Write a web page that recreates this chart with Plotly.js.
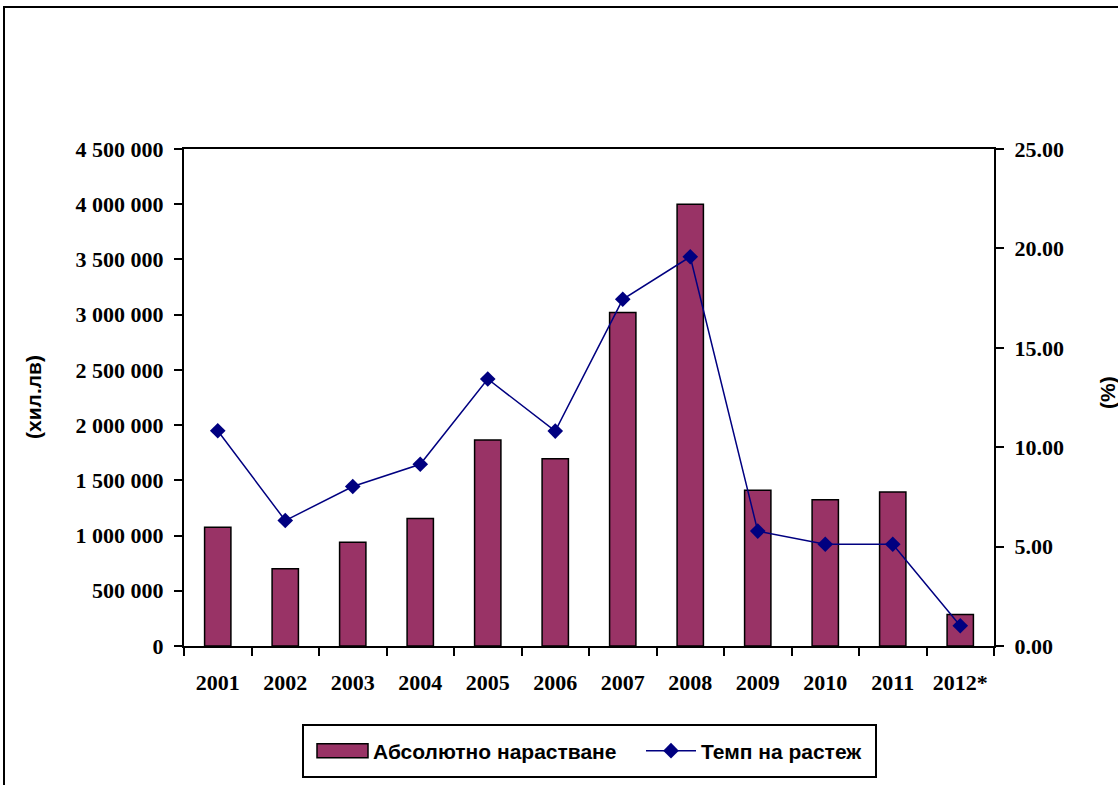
<!DOCTYPE html>
<html>
<head>
<meta charset="utf-8">
<script src="https://cdn.plot.ly/plotly-3.0.1.min.js"></script>
<style>
  html, body { margin: 0; padding: 0; background: #fff; }
  #wrap { position: relative; width: 1118px; height: 785px; overflow: hidden; }
  #chart { position: absolute; left: 0; top: 0; width: 1118px; height: 785px; }
  #frame { position: absolute; left: 3px; top: 6px; width: 1300px; height: 1000px;
           border: 2px solid #000; pointer-events: none; box-sizing: border-box; }
</style>
</head>
<body>
<div id="wrap">
  <div id="chart"></div>
  <div id="frame"></div>
</div>
<script>
const years = ['2001','2002','2003','2004','2005','2006','2007','2008','2009','2010','2011','2012*'];
const absoluteGrowth = [1075000, 700000, 940000, 1155000, 1865000, 1695000, 3020000, 4000000, 1410000, 1325000, 1395000, 285000];
const growthRate = [10.83, 6.31, 8.02, 9.14, 13.43, 10.81, 17.44, 19.58, 5.78, 5.12, 5.12, 1.02];
const barName = 'Абсолютно нарастване';
const lineName = 'Темп на растеж';
const leftTitle = '(хил.лв)';
const rightTitle = '(%)';

const serifBold = {family: 'Liberation Serif, Times New Roman, serif', size: 22, color: '#000', weight: 'bold'};
const sansBold = {family: 'Liberation Sans, Arial, sans-serif', size: 21, color: '#000', weight: 'bold'};

const traces = [
  {
    type: 'bar', x: years, y: absoluteGrowth, name: barName, yaxis: 'y',
    marker: {color: '#993366', line: {color: '#000', width: 1.5}},
    hoverinfo: 'x+y'
  },
  {
    type: 'scatter', mode: 'lines+markers', x: years, y: growthRate, name: lineName, yaxis: 'y2',
    line: {color: '#000080', width: 1.5},
    marker: {symbol: 'diamond', size: 12, color: '#000080'}
  }
];

const L = 184, R = 994, T = 149, B = 646;
const pw = R - L, ph = B - T;
const px = v => (v - L) / pw;
const py = v => (B - v) / ph;

const layout = {
  width: 1118, height: 785,
  margin: {l: L, r: 1118 - R, t: T, b: 785 - B, pad: 0},
  paper_bgcolor: 'rgba(0,0,0,0)', plot_bgcolor: '#fff',
  separators: '. ',
  bargap: 0.61,
  showlegend: true,
  xaxis: {
    type: 'category', range: [-0.5, years.length - 0.5], autorange: false,
    showline: true, linecolor: '#000', linewidth: 2, mirror: true,
    ticks: 'outside', ticklen: 8, tickwidth: 2, tickcolor: '#000', tickson: 'boundaries',
    tickfont: serifBold, ticklabelstandoff: 16, showgrid: false, zeroline: false
  },
  yaxis: {
    range: [0, 4500000], dtick: 500000, tick0: 0, tickformat: ',d',
    showline: true, linecolor: '#000', linewidth: 2,
    ticks: 'outside', ticklen: 8, tickwidth: 2, tickcolor: '#000',
    tickfont: serifBold, showgrid: false, zeroline: false, ticklabelstandoff: 6
  },
  yaxis2: {
    overlaying: 'y', side: 'right', range: [0, 25], dtick: 5, tick0: 0, tickformat: '.2f',
    showline: true, linecolor: '#000', linewidth: 2,
    ticks: 'outside', ticklen: 8, tickwidth: 2, tickcolor: '#000',
    tickfont: serifBold, showgrid: false, zeroline: false, ticklabelstandoff: 6
  },
  legend: {
    orientation: 'h', x: px(333), xanchor: 'left', y: py(751), yanchor: 'middle',
    font: sansBold, bgcolor: 'rgba(0,0,0,0)', borderwidth: 0,
    entrywidth: 283, entrywidthmode: 'pixels', traceorder: 'normal'
  },
  shapes: [
    {type: 'rect', xref: 'paper', yref: 'paper', x0: px(303), x1: px(876), y0: py(725), y1: py(777),
     line: {color: '#000', width: 2}, fillcolor: 'rgba(0,0,0,0)'}
  ],
  annotations: [
    {text: leftTitle, xref: 'paper', yref: 'paper', x: px(33), y: py(397), textangle: -90,
     showarrow: false, font: sansBold, xanchor: 'center', yanchor: 'middle'},
    {text: rightTitle, xref: 'paper', yref: 'paper', x: px(1107), y: py(393), textangle: -90,
     showarrow: false, font: sansBold, xanchor: 'center', yanchor: 'middle'}
  ]
};

Plotly.newPlot('chart', traces, layout, {displayModeBar: false, staticPlot: true}).then(function (gd) {
  try {
    const sb = gd.querySelector('.legend .scrollbox');
    if (sb) sb.removeAttribute('clip-path');
    const items = gd.querySelectorAll('.legend .traces');
    if (items.length >= 2) {
      // widen the bar swatch like the original legend key
      const barPath = items[0].querySelector('.legendpoints path');
      if (barPath) barPath.setAttribute('d', 'M15,7H-36V-7H15Z');
      // lengthen the line key and recentre its diamond
      const linePath = items[1].querySelector('.legendlines path');
      if (linePath) linePath.setAttribute('d', 'M-15,0h50');
      const pt = items[1].querySelector('.legendpoints path');
      if (pt) pt.setAttribute('transform', 'translate(10,0)');
    }
  } catch (e) { /* keep default legend */ }
});
</script>
</body>
</html>
